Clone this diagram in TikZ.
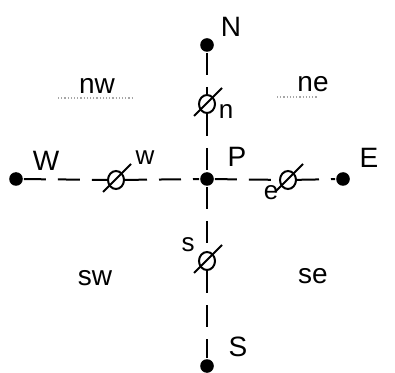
\documentclass[tikz,border=0pt]{standalone}
\usepackage{fontspec}
\setmainfont{Liberation Sans}
\usetikzlibrary{shapes.geometric}
\tikzset{every picture/.style={line width=1pt}}

\begin{document}
\begin{tikzpicture}[x=.5pt,y=-.5pt,
  every node/.style={font=\fontsize{14}{16}\selectfont},
  gridpt/.style={circle,fill=black,inner sep=0pt,minimum size=6.8pt},
  face/.style={ellipse,draw=black,line width=1pt,inner sep=0pt,
               minimum width=8pt,minimum height=9pt},
  sub/.style={font=\fontsize{13}{15}\selectfont},
  link/.style={line width=1pt,dash pattern=on 11pt off 6pt},
  slash/.style={line width=1pt},
  zone/.style={black!35,line width=.6pt,densely dotted}]
  \useasboundingbox (0,0) rectangle (395,373);

  % Grid points.
  \node[gridpt] (P) at (207,179) {};
  \node[gridpt] (N) at (207,45) {};
  \node[gridpt] (S) at (207,366) {};
  \node[gridpt] (W) at (16,179) {};
  \node[gridpt] (E) at (343,179) {};

  % Cell faces.
  \node[face] (fn) at (207,104) {};
  \node[face] (fw) at (116,180) {};
  \node[face] (fe) at (288,180) {};
  \node[face] (fs) at (207,261) {};
  \foreach \f in {fn,fw,fe,fs}
    \draw[slash] ([shift={(-13,12)}]\f.center) -- ([shift={(15,-16)}]\f.center);

  % Dashed grid lines.
  \draw[link] (N) -- (fn);
  \draw[link] (fn) -- (P);
  \draw[link] (P) -- (fs);
  \draw[link] (fs) -- (S);
  \draw[link] (W) -- (fw);
  \draw[link] (fw) -- (P);
  \draw[link] (P) -- (fe);
  \draw[link] (fe) -- (E);

  % Labels.
  \node (lN) at (231,27) {N};
  \node (lP) at (237,157) {P};
  \node (lE) at (369,158) {E};
  \node (lW) at (46,161) {W};
  \node (lS) at (238,347) {S};
  \node[sub] (ln) at (226,112) {n};
  \node[sub] (lw) at (145,158) {w};
  \node[sub] (le) at (271,193) {e};
  \node[sub] (ls) at (188,245) {s};
  \node (lnw) at (97,86) {nw};
  \node (lne) at (313,84) {ne};
  \node (lsw) at (95,278) {sw};
  \node (lse) at (313,276) {se};

  % Faint corner marks.
  \draw[zone] (58,98) -- (132,98);
  \draw[zone] (277,97) -- (318,97);
\end{tikzpicture}
\end{document}
